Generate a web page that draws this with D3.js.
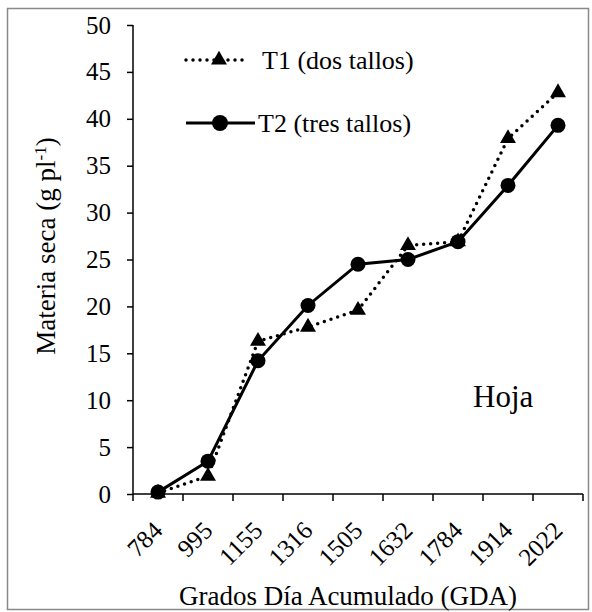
<!DOCTYPE html>
<html>
<head>
<meta charset="utf-8">
<script src="https://cdn.jsdelivr.net/npm/d3@7"></script>
</head>
<body>
<script>
const categories = ["784", "995", "1155", "1316", "1505", "1632", "1784", "1914", "2022"];
const t1Values = [0.1, 1.9, 16.3, 17.8, 19.6, 26.5, 26.9, 37.9, 42.8];
const t2Values = [0.2, 3.5, 14.2, 20.1, 24.5, 25.0, 26.9, 32.9, 39.3];
const yTicks = [0, 5, 10, 15, 20, 25, 30, 35, 40, 45, 50];
const seriesNames = ["T1 (dos tallos)", "T2 (tres tallos)"];

const FONT = "Liberation Serif";
const FONT_CSS = "'Liberation Serif', 'Times New Roman', Tinos, Times, serif";
const W = 592, H = 612;
d3.select("body").style("margin", "0").style("padding", "0");
const svg = d3.select("body").append("svg").attr("width", W).attr("height", H)
  .attr("font-family", FONT).style("display", "block");
svg.append("rect").attr("width", W).attr("height", H).attr("fill", "#fff");
svg.append("rect").attr("x", 7.5).attr("y", 8.5).attr("width", 581).attr("height", 601)
  .attr("fill", "none").attr("stroke", "#898989").attr("stroke-width", 1.5);

const x = d3.scaleBand().domain(categories).range([133, 583]);
const y = d3.scaleLinear().domain([0, 50]).range([494, 25]);

// Y axis
const yAxis = svg.append("g").attr("transform", "translate(133,0)")
  .call(d3.axisLeft(y).tickValues(yTicks).tickSize(6).tickPadding(16));
yAxis.attr("font-family", FONT).attr("font-size", 25);
yAxis.select(".domain").attr("stroke", "#000").attr("stroke-width", 1.5).attr("d", `M0,${y(50)}V${y(0)}`);
yAxis.selectAll(".tick line").attr("stroke", "#000").attr("stroke-width", 1.5);
yAxis.selectAll(".tick text").attr("font-size", 25).attr("fill", "#000");

// X axis
const xAxis = svg.append("g").attr("transform", "translate(0,494)")
  .call(d3.axisBottom(x).tickSize(0).tickFormat(""));
xAxis.select(".domain").attr("stroke", "#000").attr("stroke-width", 1.5).attr("d", "M133,0H583");
xAxis.selectAll(".tick").remove();
const bounds = categories.map(c => x(c)).concat([x.range()[1]]);
xAxis.selectAll("line.bt").data(bounds).enter().append("line")
  .attr("x1", d => d).attr("x2", d => d).attr("y1", 0).attr("y2", 7)
  .attr("stroke", "#000").attr("stroke-width", 1.5);
svg.append("g").selectAll("text").data(categories).enter().append("text")
  .attr("transform", d => `translate(${x(d) + x.bandwidth() / 2 + 6},532) rotate(-45)`)
  .attr("text-anchor", "end").attr("font-size", 25).text(d => d);

// Axis titles
svg.append("text").attr("x", 348).attr("y", 605).attr("text-anchor", "middle")
  .attr("font-size", 27).text("Grados Día Acumulado (GDA)");
const yl = svg.append("text").attr("transform", "translate(55,246) rotate(-90)")
  .attr("text-anchor", "middle").attr("font-size", 27);
yl.append("tspan").text("Materia seca (g pl");
yl.append("tspan").attr("dy", -9).attr("font-size", 17).text("-1");
yl.append("tspan").attr("dy", 9).text(")");

const cx = d => x(d) + x.bandwidth() / 2;
const line = d3.line().x((d, i) => cx(categories[i])).y(d => y(d));

// T1 dotted with triangles
svg.append("path").datum(t1Values).attr("d", line).attr("fill", "none")
  .attr("stroke", "#000").attr("stroke-width", 3.5).attr("stroke-linecap", "round")
  .attr("stroke-dasharray", "0,7");
const tri = d3.symbol().type(d3.symbolTriangle).size(110);
svg.append("g").selectAll("path").data(t1Values).enter().append("path")
  .attr("d", tri).attr("transform", (d, i) => `translate(${cx(categories[i])},${y(d)})`)
  .attr("fill", "#000");

// T2 solid with circles
svg.append("path").datum(t2Values).attr("d", line).attr("fill", "none")
  .attr("stroke", "#000").attr("stroke-width", 3);
svg.append("g").selectAll("circle").data(t2Values).enter().append("circle")
  .attr("cx", (d, i) => cx(categories[i])).attr("cy", d => y(d)).attr("r", 7.5).attr("fill", "#000");

// Legend
const lg = svg.append("g");
lg.append("line").attr("x1", 186).attr("x2", 248).attr("y1", 60).attr("y2", 60)
  .attr("stroke", "#000").attr("stroke-width", 3.5).attr("stroke-linecap", "round").attr("stroke-dasharray", "0,7");
lg.append("path").attr("d", tri).attr("transform", "translate(219,60)").attr("fill", "#000");
lg.append("text").attr("x", 262).attr("y", 60).attr("dy", "0.35em").attr("font-size", 26).text(seriesNames[0]);
lg.append("line").attr("x1", 186).attr("x2", 255).attr("y1", 123).attr("y2", 123)
  .attr("stroke", "#000").attr("stroke-width", 3);
lg.append("circle").attr("cx", 220).attr("cy", 123).attr("r", 8).attr("fill", "#000");
lg.append("text").attr("x", 258).attr("y", 123).attr("dy", "0.35em").attr("font-size", 26).text(seriesNames[1]);

svg.append("text").attr("x", 473).attr("y", 407).attr("font-size", 31).text("Hoja");

// Force the serif face on every text element
svg.selectAll("text, tspan")
  .attr("font-family", FONT)
  .style("font-family", FONT_CSS, "important");
</script>
</body>
</html>
